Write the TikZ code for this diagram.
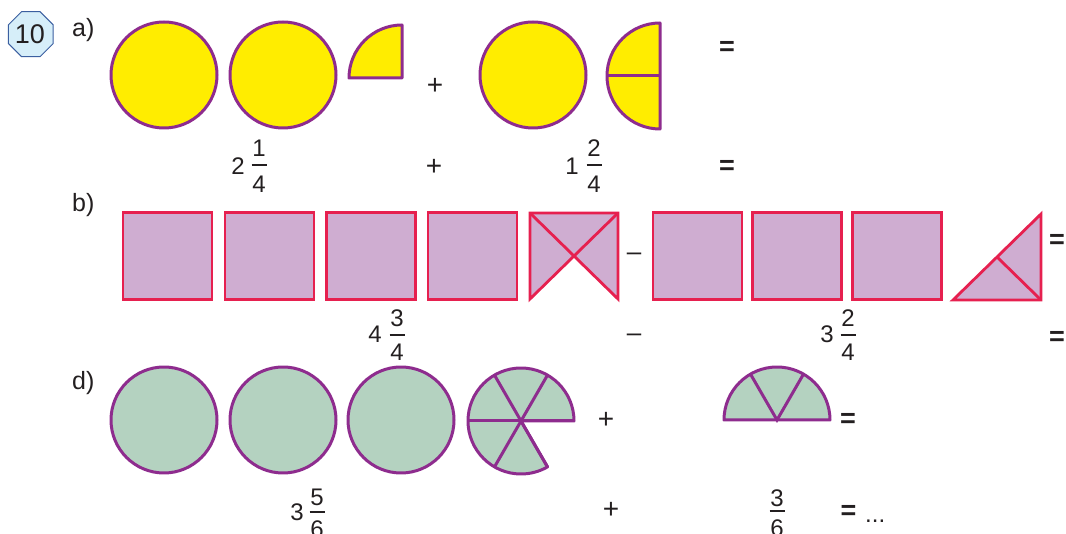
\documentclass[tikz,border=0pt]{standalone}
\usepackage{fontspec}
\setmainfont{Liberation Sans}
\usetikzlibrary{calc}
\definecolor{ink}{HTML}{231F20}
\definecolor{yel}{HTML}{FFED00}
\definecolor{pur}{HTML}{8E2C8E}
\definecolor{pinkf}{HTML}{CFADD1}
\definecolor{reds}{HTML}{E6204F}
\definecolor{greenf}{HTML}{B4D2C0}
\definecolor{octf}{HTML}{D6EEF9}
\definecolor{octs}{HTML}{3B5FA0}
\tikzset{
  txt/.style={inner sep=0pt, text=ink, font=\fontsize{24}{28}\selectfont},
  lbl/.style={inner sep=0pt, text=ink, font=\fontsize{25}{28}\selectfont},
  plus/.style={inner sep=0pt, text=ink, font=\fontsize{28}{30}\selectfont},
  eqs/.style={inner sep=0pt, text=ink, font=\fontsize{27}{30}\bfseries\selectfont},
  minus/.style={inner sep=0pt, text=ink, font=\fontsize{26}{30}\selectfont},
  yshape/.style={draw=pur, fill=yel, line width=3pt, line join=round},
  yline/.style={draw=pur, line width=3pt},
  bshape/.style={draw=reds, fill=pinkf, line width=2.8pt, line join=miter},
  bline/.style={draw=reds, line width=2.8pt},
  gshape/.style={draw=pur, fill=greenf, line width=3pt, line join=round},
  gline/.style={draw=pur, line width=3pt},
  ycirc/.style={yshape, circle, inner sep=0pt, minimum size=106pt},
  gcirc/.style={gshape, circle, inner sep=0pt, minimum size=106pt},
  bsq/.style={bshape, rectangle, inner sep=0pt, minimum width=89pt, minimum height=87pt},
  fbar/.style={draw=ink, line width=1.3pt},
}
\begin{document}
\begin{tikzpicture}[x=1pt,y=1pt]
\useasboundingbox (0,0) rectangle (1066,-534);

% badge
\draw[fill=octf, draw=octs, line width=1pt]
  (30.8,-34.2) ++(22.5:24.3) -- ++(135:18.6) -- ++(180:18.6) -- ++(225:18.6) -- ++(270:18.6)
  -- ++(315:18.6) -- ++(0:18.6) -- ++(45:18.6) -- cycle;
\node[inner sep=0pt, text=ink, font=\fontsize{27}{30}\selectfont] (badge) at (30,-34) {10};

% labels
\node[lbl, anchor=base west] (la) at (72,-37) {a)};
\node[lbl, anchor=base west] (lb) at (72,-212) {b)};
\node[lbl, anchor=base west] (ld) at (72,-390) {d)};

% ---------- row a ----------
\node[ycirc] (a1) at (164,-75) {};
\node[ycirc] (a2) at (283,-75) {};
\draw[yshape] (402,-78) -- (349,-78) arc (180:90:53) -- cycle;
\node[plus] (aplus) at (435,-86) {+};
\node[ycirc] (a3) at (533,-75) {};
\draw[yshape] (660,-23) arc (90:270:53) -- cycle;
\draw[yline] (607,-76) -- (660,-76);
\node[eqs] (aeq) at (727,-48) {=};

% row a numbers
\node[txt, anchor=base] (aw1) at (238,-175) {2};
\node[txt, anchor=base] (an1) at (259,-157) {1};
\draw[fbar] (251.5,-165) -- (266.5,-165);
\node[txt, anchor=base] (ad1) at (259,-192.5) {4};
\node[plus] (aplus2) at (434,-167) {+};
\node[txt, anchor=base] (aw2) at (572,-175) {1};
\node[txt, anchor=base] (an2) at (594,-157) {2};
\draw[fbar] (586.5,-165) -- (601.5,-165);
\node[txt, anchor=base] (ad2) at (594,-192.5) {4};
\node[eqs] (aeq2) at (727,-167) {=};

% ---------- row b ----------
\node[bsq] (b1) at (167.5,-256) {};
\node[bsq] (b2) at (269.5,-256) {};
\node[bsq] (b3) at (371,-256) {};
\node[bsq] (b4) at (472.5,-256) {};
\coordinate (xtl) at (530,-213);
\coordinate (xtr) at (618,-213);
\coordinate (xbr) at (618,-299);
\coordinate (xbl) at (530,-299);
\coordinate (xc) at (574,-256);
\draw[bshape] (xtl) -- (xtr) -- (xbr) -- (xc) -- (xbl) -- cycle;
\draw[bline] (xtl) -- (xc) -- (xtr);
\node[minus] (bminus) at (634,-257) {–};
\node[bsq] (b5) at (697.5,-256) {};
\node[bsq] (b6) at (797,-256) {};
\node[bsq] (b7) at (897,-256) {};
\coordinate (tl) at (953,-300);
\coordinate (tr) at (1041,-300);
\coordinate (tt) at (1041,-214);
\coordinate (tm) at (997,-257);
\draw[bshape] (tl) -- (tr) -- (tt) -- cycle;
\draw[bline] (tm) -- (tr);
\node[eqs] (beq) at (1057,-241) {=};

% row b numbers
\node[txt, anchor=base] (bw1) at (375,-343) {4};
\node[txt, anchor=base] (bn1) at (397,-327) {3};
\draw[fbar] (389.5,-335) -- (404.5,-335);
\node[txt, anchor=base] (bd1) at (397,-360.5) {4};
\node[minus] (bminus2) at (634,-338) {–};
\node[txt, anchor=base] (bw2) at (827,-343) {3};
\node[txt, anchor=base] (bn2) at (848,-327) {2};
\draw[fbar] (840.5,-335) -- (855.5,-335);
\node[txt, anchor=base] (bd2) at (848,-360.5) {4};
\node[eqs] (beq2) at (1057,-338) {=};

% ---------- row d ----------
\node[gcirc] (d1) at (164,-420) {};
\node[gcirc] (d2) at (283,-420) {};
\node[gcirc] (d3) at (401,-420) {};
\coordinate (pc) at (521,-421);
\draw[gshape] (pc) -- ($(pc)+(0:53)$) arc (0:300:53) -- cycle;
\draw[gline] ($(pc)+(180:53)$) -- ($(pc)+(0:53)$);
\draw[gline] ($(pc)+(60:53)$) -- ($(pc)+(240:53)$);
\draw[gline] ($(pc)+(120:53)$) -- ($(pc)+(300:53)$);
\node[plus] (dplus) at (606,-420) {+};
\coordinate (hc) at (777,-420);
\draw[gshape] ($(hc)+(180:53)$) arc (180:0:53) -- cycle;
\draw[gline] ($(hc)+(60:53)$) -- (hc) -- ($(hc)+(120:53)$);
\node[eqs] (deq) at (848,-420) {=};

% row d numbers
\node[txt, anchor=base] (dw1) at (297,-520) {3};
\node[txt, anchor=base] (dn1) at (317,-505) {5};
\draw[fbar] (309.5,-512) -- (324.5,-512);
\node[txt, anchor=base] (dd1) at (317,-537) {6};
\node[plus] (dplus2) at (611,-510) {+};
\node[txt, anchor=base] (dn2) at (777,-506) {3};
\draw[fbar] (769.5,-511) -- (784.5,-511);
\node[txt, anchor=base] (dd2) at (777,-536) {6};
\node[eqs] (deq2) at (848.5,-512) {=};
\node[plus, anchor=base west, font=\fontsize{24}{26}\selectfont] (ddots) at (865,-522) {...};
\end{tikzpicture}
\end{document}
